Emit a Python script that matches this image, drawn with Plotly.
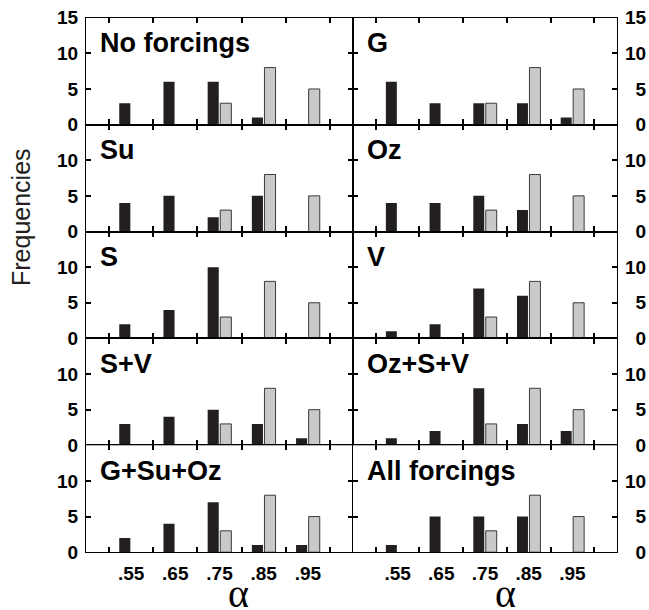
import plotly.graph_objects as go
from plotly.subplots import make_subplots

# ---- data ----
alpha_bins = [0.55, 0.65, 0.75, 0.85, 0.95]
alpha_labels = [".55", ".65", ".75", ".85", ".95"]
bin_edges = [0.50, 0.60, 0.70, 0.80, 0.90, 1.00]

panel_names = ["No forcings", "G", "Su", "Oz", "S", "V",
               "S+V", "Oz+S+V", "G+Su+Oz", "All forcings"]

no_forcings = [3, 6, 6, 1, 0]
g_forcing = [6, 3, 3, 3, 1]
su_forcing = [4, 5, 2, 5, 0]
oz_forcing = [4, 4, 5, 3, 0]
s_forcing = [2, 4, 10, 0, 0]
v_forcing = [1, 2, 7, 6, 0]
s_v = [3, 4, 5, 3, 1]
oz_s_v = [1, 2, 8, 3, 2]
g_su_oz = [2, 4, 7, 1, 1]
all_forcings = [1, 5, 5, 5, 0]

observed = [0, 0, 3, 8, 5]  # grey bars, identical in every panel

model_series = [no_forcings, g_forcing, su_forcing, oz_forcing, s_forcing,
                v_forcing, s_v, oz_s_v, g_su_oz, all_forcings]

y_ticks_top = [0, 5, 10, 15]
y_ticks = [0, 5, 10]


def nz(vals):
    return [v if v > 0 else None for v in vals]


# ---- figure ----
W, H = 649, 610
fig = make_subplots(rows=5, cols=2, horizontal_spacing=0, vertical_spacing=0)

BLACK = "#231f20"
GREY = "#c8c9cb"
FONT = "Liberation Sans"

for i, vals in enumerate(model_series):
    r, c = i // 2 + 1, i % 2 + 1
    fig.add_trace(go.Bar(x=alpha_bins, y=nz(vals), marker=dict(color=BLACK, line=dict(width=0)),
                         showlegend=False), row=r, col=c)
    fig.add_trace(go.Bar(x=alpha_bins, y=nz(observed),
                         marker=dict(color=GREY, line=dict(color="#3a3a3a", width=1)),
                         showlegend=False), row=r, col=c)

col_px = [(86, 353), (353, 617)]
row_top = 17.7
row_h = 106.9

for i in range(10):
    r, c = i // 2, i % 2
    idx = "" if i == 0 else str(i + 1)
    x0, x1 = col_px[c]
    y_top = row_top + r * row_h
    y_bot = y_top + row_h
    fig.layout["xaxis" + idx].update(
        domain=[x0 / W, x1 / W], range=[0.448, 1.052],
        tickvals=alpha_bins, ticktext=alpha_labels, ticks="",
        showticklabels=(r == 4), ticklabelstandoff=4,
        tickfont=dict(family=FONT, size=19, color="black", weight="bold"),
        minor=dict(tickvals=bin_edges, ticks="inside", ticklen=5, tickwidth=1.5, tickcolor="black"),
        showline=True, linecolor="black", linewidth=1.3, mirror="ticks",
        showgrid=False, zeroline=False, fixedrange=True, automargin=False,
    )
    tv = y_ticks_top if r == 0 else y_ticks
    if c == 0:
        tt = [str(v) for v in tv]
    else:
        tt = [("\u00a0\u00a0" + str(v)) if v < 10 else str(v) for v in tv]
    fig.layout["yaxis" + idx].update(
        domain=[1 - y_bot / H, 1 - y_top / H], range=[0, 15],
        tickvals=tv, ticktext=tt, ticks="inside", ticklen=5, tickwidth=1.5, tickcolor="black",
        side="left" if c == 0 else "right", ticklabelstandoff=3,
        tickfont=dict(family=FONT, size=19, color="black", weight="bold"),
        showline=True, linecolor="black", linewidth=1.3, mirror="ticks",
        showgrid=False, zeroline=False, fixedrange=True, automargin=False,
    )
    xref = "x" + idx
    yref = "y" + idx
    fig.add_annotation(text=panel_names[i], xref=xref + " domain", yref=yref + " domain",
                       x=0.045, y=0.76, xanchor="left", yanchor="middle", showarrow=False,
                       font=dict(family=FONT, size=27, color="black", weight="bold"))

# axis titles
for cx in (238, 505):
    fig.add_annotation(text="α", xref="paper", yref="paper", x=cx / W, y=1 - 593 / H,
                       xanchor="center", yanchor="middle", showarrow=False,
                       font=dict(family="Liberation Serif", size=40, color="black"))
fig.add_annotation(text="Frequencies", xref="paper", yref="paper", x=21 / W, y=1 - 217 / H,
                   xanchor="center", yanchor="middle", textangle=-90, showarrow=False,
                   font=dict(family=FONT, size=25, color="#231f20"))

fig.update_layout(template="none", width=W, height=H, margin=dict(l=0, r=0, t=0, b=0, autoexpand=False),
                  paper_bgcolor="white", plot_bgcolor="white",
                  barmode="group", bargap=0.43, bargroupgap=0.12)

fig.write_html("out.html", config={"displayModeBar": False},
               post_script="document.body.style.margin='0px';")
